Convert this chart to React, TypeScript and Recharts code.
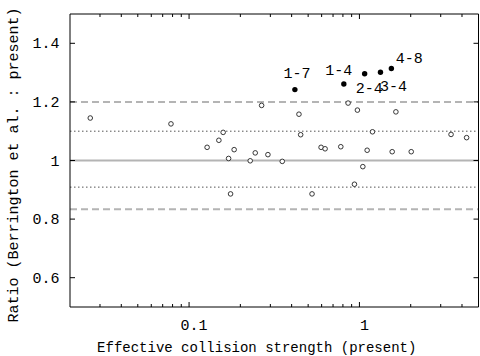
import React from 'react';
import { ScatterChart, Scatter, XAxis, YAxis, ReferenceLine } from 'recharts';

// Open circles: effective collision strength (present) vs ratio
const openX = [0.0263, 0.0783, 0.1276, 0.1496, 0.1585, 0.1706, 0.1839, 0.1752, 0.2285, 0.2446,
  0.2666, 0.2903, 0.3524, 0.4416, 0.4519, 0.527, 0.5955, 0.6288, 0.7774, 0.858,
  0.973, 0.935, 1.047, 1.11, 1.193, 1.637, 1.557, 2.014, 3.45, 4.258];
const openY = [1.145, 1.125, 1.045, 1.069, 1.096, 1.007, 1.037, 0.886, 0.999, 1.026,
  1.188, 1.02, 0.997, 1.158, 1.088, 0.886, 1.045, 1.04, 1.047, 1.196,
  1.172, 0.919, 0.979, 1.035, 1.098, 1.166, 1.03, 1.03, 1.089, 1.078];

// Filled, labelled transitions
const labX = [0.418, 0.81, 1.073, 1.329, 1.54];
const labY = [1.242, 1.261, 1.296, 1.301, 1.314];
const labNames = ['1-7', '1-4', '2-4', '3-4', '4-8'];

const xTicks = [0.03, 0.04, 0.05, 0.06, 0.07, 0.08, 0.09, 0.1, 0.2, 0.3, 0.4, 0.5, 0.6, 0.7, 0.8, 0.9, 1, 2, 3, 4, 5];
const xMajorTicks = [0.1, 1];
const xTickLabels = ['0.1', '1'];
const yTicks = [0.6, 0.8, 1, 1.2, 1.4];
const yTickLabels = ['0.6', '0.8', '1', '1.2', '1.4'];

const dashedRefs = [1.2, 0.8333];
const dottedRefs = [1.1, 0.9091];
const solidRefs = [1];

const xTitle = 'Effective collision strength (present)';
const yTitle = 'Ratio (Berrington et al. : present)';

const openData = openX.map((x, i) => ({ x, y: openY[i] }));
const labData = labX.map((x, i) => ({ x, y: labY[i], label: labNames[i] }));

const FONT = '"Liberation Mono", "DejaVu Sans Mono", monospace';

const labelOffsets: Record<string, [number, number]> = {
  '1-7': [2, -17],
  '1-4': [-5, -14.5],
  '2-4': [4.5, 14],
  '3-4': [13, 13],
  '4-8': [18, -10.5],
};

const isMajorX = (v: number) => xMajorTicks.some((m) => Math.abs(m - v) < 1e-9);

const BottomTick = (props: any) => {
  const { x, y, payload } = props;
  const v = payload.value;
  const major = isMajorX(v);
  const idx = xMajorTicks.findIndex((m) => Math.abs(m - v) < 1e-9);
  return (
    <g>
      <line x1={x} x2={x} y1={y} y2={y - (major ? 5 : 3)} stroke="#000" strokeWidth={1} />
      {major && (
        <text x={x + 5} y={y + 23} textAnchor="middle" fontSize={15} fontFamily={FONT} fill="#000">
          {xTickLabels[idx]}
        </text>
      )}
    </g>
  );
};

const TopTick = (props: any) => {
  const { x, y, payload } = props;
  const major = isMajorX(payload.value);
  return <line x1={x} x2={x} y1={y} y2={y + (major ? 5 : 3)} stroke="#000" strokeWidth={1} />;
};

const LeftTick = (props: any) => {
  const { x, y, payload } = props;
  const idx = yTicks.findIndex((t) => Math.abs(t - payload.value) < 1e-9);
  return (
    <g>
      <line x1={x} x2={x + 5} y1={y} y2={y} stroke="#000" strokeWidth={1} />
      <text x={x - 10.5} y={y + 5} textAnchor="end" fontSize={15} fontFamily={FONT} fill="#000">
        {yTickLabels[idx]}
      </text>
    </g>
  );
};

const RightTick = (props: any) => {
  const { x, y } = props;
  return <line x1={x} x2={x - 5} y1={y} y2={y} stroke="#000" strokeWidth={1} />;
};

const XTitle = (props: any) => {
  const vb = props.viewBox;
  return (
    <text x={vb.x + vb.width / 2 - 17.5} y={vb.y + 45} textAnchor="middle" fontSize={14} fontFamily={FONT} fill="#000">
      {xTitle}
    </text>
  );
};

const YTitle = () => {
  const cx = 14;
  const cy = 165;
  return (
    <text
      x={cx}
      y={cy}
      transform={`rotate(-90 ${cx} ${cy})`}
      textAnchor="middle"
      dominantBaseline="central"
      fontSize={15}
      fontFamily={FONT}
      fill="#000"
    >
      {yTitle}
    </text>
  );
};

const OpenDot = (props: any) => {
  const { cx, cy } = props;
  return <circle cx={cx} cy={cy} r={2.3} fill="#fff" stroke="#222" strokeWidth={0.9} />;
};

const LabDot = (props: any) => {
  const { cx, cy, payload } = props;
  const off = labelOffsets[payload.label] || [0, -14];
  return (
    <g>
      <circle cx={cx} cy={cy} r={2.7} fill="#000" />
      <text
        x={cx + off[0]}
        y={cy + off[1]}
        dy="0.35em"
        textAnchor="middle"
        fontSize={15}
        fontFamily={FONT}
        fill="#000"
      >
        {payload.label}
      </text>
    </g>
  );
};

export default function App() {
  return (
    <div style={{ position: 'absolute', left: 0, top: 0, background: '#fff' }}>
      <ScatterChart width={480} height={356} margin={{ top: 10, right: 0, bottom: 19, left: 10 }}>
        <XAxis
          xAxisId="bottom"
          dataKey="x"
          type="number"
          scale="log"
          domain={[0.02, 5]}
          allowDataOverflow
          ticks={xTicks}
          interval={0}
          height={30}
          tickSize={0}
          tickMargin={0}
          tick={<BottomTick />}
          axisLine={{ stroke: '#000', strokeWidth: 1 }}
          tickLine={false}
          label={{ content: <XTitle /> }}
        />
        <XAxis
          xAxisId="top"
          orientation="top"
          dataKey="x"
          type="number"
          scale="log"
          domain={[0.02, 5]}
          allowDataOverflow
          ticks={xTicks}
          interval={0}
          height={4}
          tickSize={0}
          tickMargin={0}
          tick={<TopTick />}
          axisLine={{ stroke: '#000', strokeWidth: 1 }}
          tickLine={false}
        />
        <YAxis
          yAxisId="left"
          dataKey="y"
          type="number"
          domain={[0.5, 1.5]}
          allowDataOverflow
          ticks={yTicks}
          interval={0}
          width={60}
          tickSize={0}
          tickMargin={0}
          tick={<LeftTick />}
          axisLine={{ stroke: '#000', strokeWidth: 1 }}
          tickLine={false}
          label={{ content: <YTitle /> }}
        />
        <YAxis
          yAxisId="right"
          orientation="right"
          dataKey="y"
          type="number"
          domain={[0.5, 1.5]}
          allowDataOverflow
          ticks={yTicks}
          interval={0}
          width={1.5}
          tickSize={0}
          tickMargin={0}
          tick={<RightTick />}
          axisLine={{ stroke: '#000', strokeWidth: 1 }}
          tickLine={false}
        />
        {dashedRefs.map((v) => (
          <ReferenceLine key={'d' + v} xAxisId="bottom" yAxisId="left" y={v} stroke="#b4b4b4" strokeWidth={2} strokeDasharray="7 4" />
        ))}
        {dottedRefs.map((v) => (
          <ReferenceLine key={'o' + v} xAxisId="bottom" yAxisId="left" y={v} stroke="#555" strokeWidth={1} strokeDasharray="1.5 2.5" />
        ))}
        {solidRefs.map((v) => (
          <ReferenceLine key={'s' + v} xAxisId="bottom" yAxisId="left" y={v} stroke="#b4b4b4" strokeWidth={2} />
        ))}
        <Scatter data={openData} xAxisId="top" yAxisId="right" shape={() => null} isAnimationActive={false} />
        <Scatter data={openData} xAxisId="bottom" yAxisId="left" shape={<OpenDot />} isAnimationActive={false} />
        <Scatter data={labData} xAxisId="bottom" yAxisId="left" shape={<LabDot />} isAnimationActive={false} />
      </ScatterChart>
    </div>
  );
}
